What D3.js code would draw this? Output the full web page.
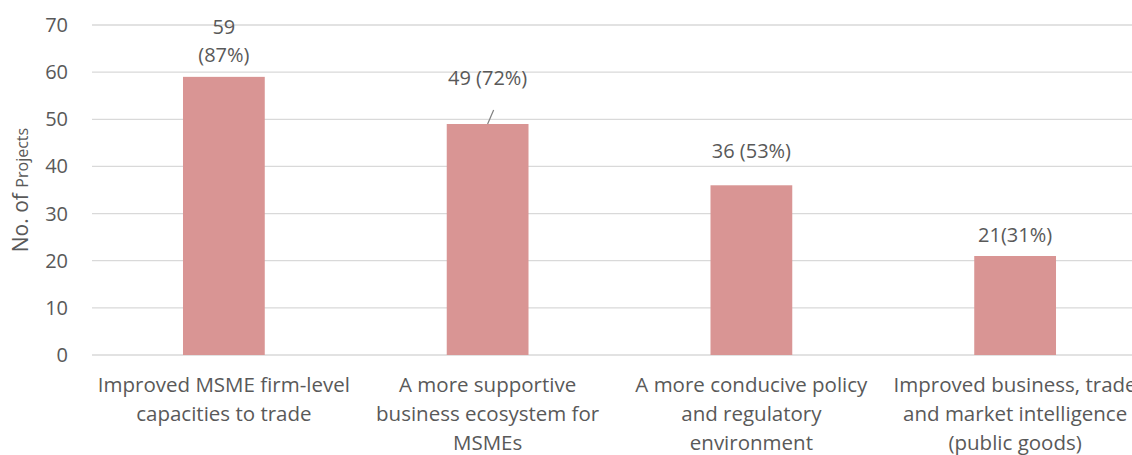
<!DOCTYPE html>
<html>
<head>
<meta charset="utf-8">
<script src="https://cdn.jsdelivr.net/npm/d3@7"></script>
<style>
  body { margin: 0; background: #fff; }
  text { font-family: "Open Sans", Lato, sans-serif; fill: #595959; }
</style>
</head>
<body>
<svg id="chart"></svg>
<script>
// chart data
var categories = [
  ["Improved MSME firm-level", "capacities to trade"],
  ["A more supportive", "business ecosystem for", "MSMEs"],
  ["A more conducive policy", "and regulatory", "environment"],
  ["Improved business, trade", "and market intelligence", "(public goods)"]
]
var values = [59, 49, 36, 21]
var barLabels = [["59", "(87%)"], ["49 (72%)"], ["36 (53%)"], ["21(31%)"]]
var yTicks = [0, 10, 20, 30, 40, 50, 60, 70]

var width = 1132
var height = 455
var plotLeft = 92
var plotRight = 1147
var plotTop = 25
var plotBottom = 355
var fontSize = 20.5

var svg = d3.select("#chart")
  .attr("width", width)
  .attr("height", height)

var x = d3.scaleBand()
  .domain(d3.range(values.length))
  .range([plotLeft, plotRight])
  .paddingInner(0.69)
  .paddingOuter(0.345)

var y = d3.scaleLinear()
  .domain([0, 70])
  .range([plotBottom, plotTop])

// grid lines
svg.append("g")
  .selectAll("line")
  .data(yTicks)
  .enter()
  .append("line")
  .attr("x1", plotLeft)
  .attr("x2", width)
  .attr("y1", d => y(d))
  .attr("y2", d => y(d))
  .attr("stroke", "#d9d9d9")
  .attr("stroke-width", 1.3)

// y tick labels
svg.append("g")
  .selectAll("text")
  .data(yTicks)
  .enter()
  .append("text")
  .attr("x", 68)
  .attr("y", d => y(d))
  .attr("dy", "0.35em")
  .attr("text-anchor", "end")
  .style("font-size", "20px")
  .text(d => d)

// y axis title
var title = svg.append("text")
  .attr("transform", "translate(28,190) rotate(-90)")
  .attr("text-anchor", "middle")
title.append("tspan").style("font-size", "21px").text("No. of ")
title.append("tspan").style("font-size", "16px").text("Projects")

// bars
svg.append("g")
  .selectAll("rect")
  .data(values)
  .enter()
  .append("rect")
  .attr("x", (d, i) => x(i))
  .attr("y", d => y(d))
  .attr("width", x.bandwidth())
  .attr("height", d => y(0) - y(d))
  .attr("fill", "#d99594")

// bar value labels
var labelTop = [27, 78, 151, 235]
svg.append("g")
  .selectAll("text")
  .data(barLabels)
  .enter()
  .append("text")
  .attr("text-anchor", "middle")
  .style("font-size", "20px")
  .each(function(d, i) {
    var cx = x(i) + x.bandwidth() / 2
    var t = d3.select(this)
    d.forEach(function(line, j) {
      t.append("tspan")
        .attr("x", cx)
        .attr("y", labelTop[i] + j * 28)
        .attr("dy", "0.35em")
        .text(line)
    })
  })

// leader line for the second label
var cx2 = x(1) + x.bandwidth() / 2
svg.append("line")
  .attr("x1", cx2)
  .attr("y1", y(values[1]))
  .attr("x2", cx2 + 6)
  .attr("y2", y(values[1]) - 14)
  .attr("stroke", "#7f7f7f")
  .attr("stroke-width", 1.2)

// category labels
svg.append("g")
  .selectAll("text")
  .data(categories)
  .enter()
  .append("text")
  .attr("text-anchor", "middle")
  .style("font-size", fontSize + "px")
  .each(function(d, i) {
    var cx = x(i) + x.bandwidth() / 2
    var t = d3.select(this)
    d.forEach(function(line, j) {
      t.append("tspan")
        .attr("x", cx)
        .attr("y", 385 + j * 29)
        .attr("dy", "0.35em")
        .text(line)
    })
  })
</script>
</body>
</html>
